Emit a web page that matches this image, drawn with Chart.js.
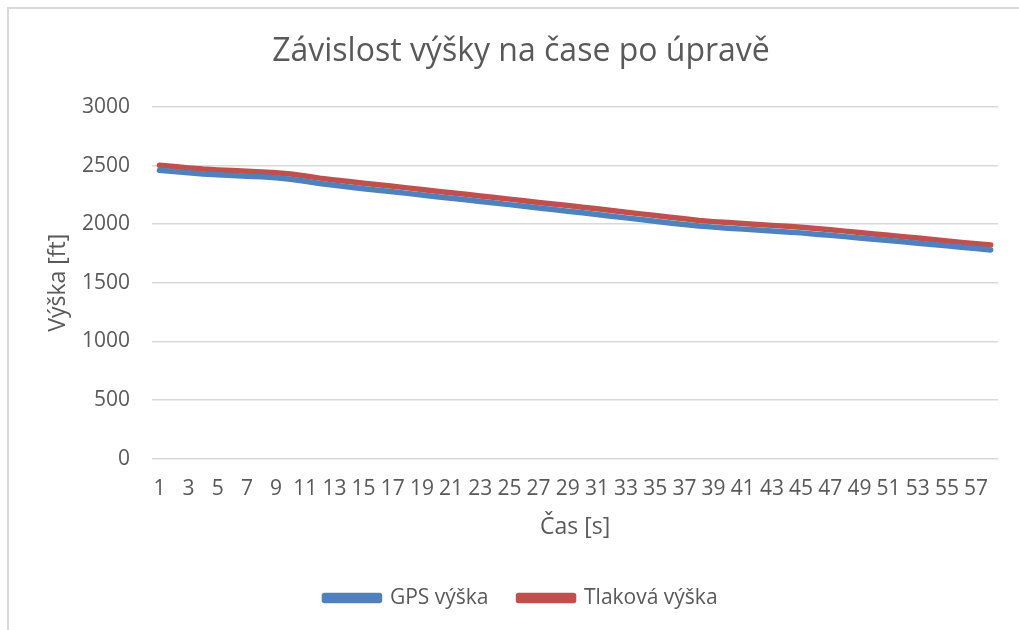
<!DOCTYPE html>
<html>
<head>
<meta charset="utf-8">
<script src="https://cdn.jsdelivr.net/npm/chart.js@4.4.1/dist/chart.umd.min.js"></script>
<style>
  html, body { margin: 0; padding: 0; background: #ffffff; }
  #frame { position: absolute; left: 7px; top: 7px; width: 1020px; height: 630px;
           border-left: 2px solid #D9D9D9; border-top: 2px solid #D9D9D9; box-sizing: border-box; }
  #wrap { position: absolute; left: 0; top: 0; width: 1019px; height: 630px; }
</style>
</head>
<body>
<div id="frame"></div>
<div id="wrap"><canvas id="c" width="1019" height="630"></canvas></div>
<script>
const chartTitle = 'Závislost výšky na čase po úpravě';
const xAxisTitle = 'Čas [s]';
const yAxisTitle = 'Výška [ft]';
const seriesNames = ['GPS výška', 'Tlaková výška'];

const categories = [1,2,3,4,5,6,7,8,9,10,11,12,13,14,15,16,17,18,19,20,21,22,23,24,25,26,27,28,29,30,
  31,32,33,34,35,36,37,38,39,40,41,42,43,44,45,46,47,48,49,50,51,52,53,54,55,56,57,58];

const gpsHeight = [2460,2449,2438,2428,2421,2415,2410,2404,2396,2384,2366,2347,2333,2318,2303,2290,2277,2263,2249,2235,
  2221,2208,2194,2181,2167,2153,2139,2125,2111,2097,2083,2068,2054,2040,2026,2011,1997,1984,1975,1966,
  1958,1950,1942,1934,1926,1915,1905,1894,1883,1872,1861,1850,1838,1827,1815,1804,1792,1780];

const pressureHeight = [2503,2492,2480,2470,2463,2458,2452,2446,2438,2428,2412,2393,2378,2364,2350,2337,2323,2310,2296,2282,
  2268,2255,2241,2228,2214,2200,2186,2173,2159,2145,2131,2117,2102,2088,2074,2060,2046,2032,2022,2014,
  2006,1998,1990,1982,1974,1963,1952,1941,1929,1917,1905,1894,1882,1869,1857,1845,1833,1823];

const yTicks = [0, 500, 1000, 1500, 2000, 2500, 3000];

const textColor = '#595959';
const fontFamily = '"Open Sans", "Noto Sans", sans-serif';

new Chart(document.getElementById('c'), {
  type: 'line',
  data: {
    labels: categories,
    datasets: [
      { label: seriesNames[0], data: gpsHeight, borderColor: '#4F81BD', backgroundColor: '#4F81BD',
        borderWidth: 5.5, pointRadius: 0, tension: 0, borderCapStyle: 'round', borderJoinStyle: 'round' },
      { label: seriesNames[1], data: pressureHeight, borderColor: '#C0504D', backgroundColor: '#C0504D',
        borderWidth: 5.5, pointRadius: 0, tension: 0, borderCapStyle: 'round', borderJoinStyle: 'round' }
    ]
  },
  options: {
    responsive: false,
    animation: false,
    layout: { padding: { left: 44, right: 21, top: 0, bottom: 11.5 } },
    plugins: {
      tooltip: { enabled: false },
      title: {
        display: true, text: chartTitle, color: textColor,
        font: { family: fontFamily, size: 32, weight: 'normal' },
        padding: { top: 33, bottom: 35.6 }
      },
      legend: {
        position: 'bottom',
        labels: {
          color: textColor, boxWidth: 55, boxHeight: 5, padding: 30,
          font: { family: fontFamily, size: 21 }
        }
      }
    },
    scales: {
      x: {
        offset: true,
        grid: { display: false, drawTicks: false },
        border: { display: false },
        ticks: {
          autoSkip: false, maxRotation: 0, minRotation: 0, padding: 17.4,
          color: textColor, font: { family: fontFamily, size: 21 },
          callback: function(val, idx) { return idx % 2 === 0 ? String(categories[idx]) : ''; }
        },
        title: {
          display: true, text: xAxisTitle, color: textColor,
          font: { family: fontFamily, size: 23 },
          padding: { top: -5.4, bottom: 16.7 }
        }
      },
      y: {
        min: 0, max: 3000,
        afterBuildTicks: function(axis) { axis.ticks = yTicks.map(v => ({ value: v })); },
        grid: { color: '#D9D9D9', lineWidth: 1.5, drawTicks: false },
        border: { display: false },
        ticks: {
          padding: 22, color: textColor, font: { family: fontFamily, size: 21 },
          callback: function(val) { return String(val); }
        },
        title: {
          display: true, text: yAxisTitle, color: textColor,
          font: { family: fontFamily, size: 23 },
          padding: { top: 1, bottom: -12.5 }
        }
      }
    }
  }
});
</script>
</body>
</html>
